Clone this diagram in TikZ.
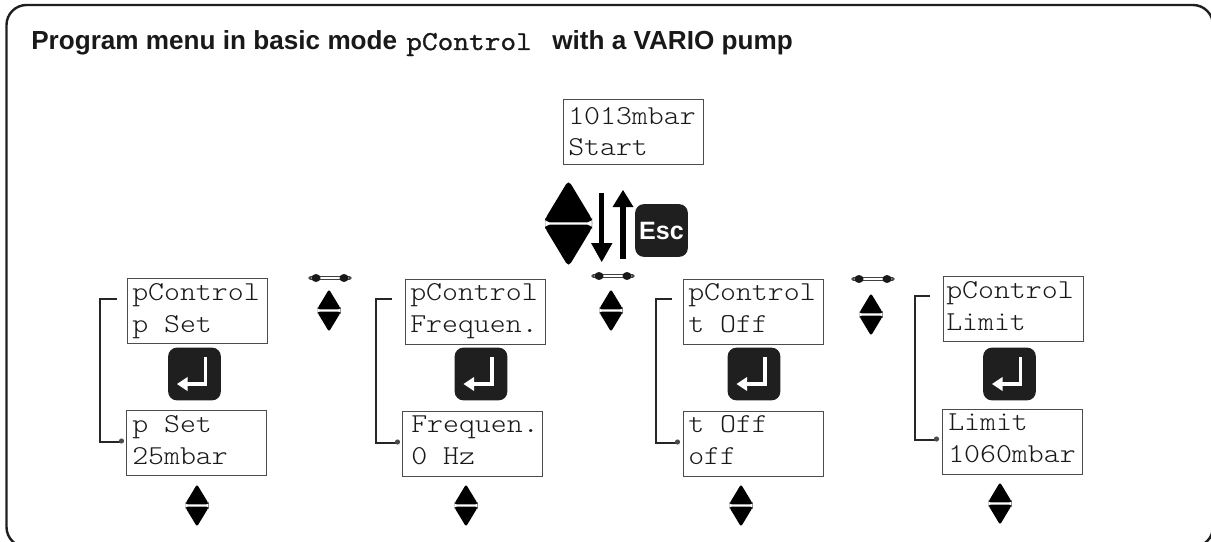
\documentclass[tikz,border=0pt]{standalone}
\usepackage{fontspec}
\setmainfont{Liberation Sans}
\setmonofont[FakeStretch=1.11]{Latin Modern Mono Light}
\newfontfamily\ttbold[FakeStretch=1.115,FakeBold=1.2]{Latin Modern Mono}
\tikzset{x=0.75pt,y=-0.75pt,
 disp/.style={draw=black!70,line width=0.95pt,rectangle,inner sep=0pt,anchor=north west,minimum width=105pt,minimum height=48.75pt},
 lcd/.style={font=\fontsize{20.5}{24}\selectfont\ttfamily,text=black!90,anchor=base west,inner sep=0pt},
 keybox/.style={fill=black!88,rounded corners=6.5pt,minimum size=39.5pt,inner sep=0pt},
 brk/.style={draw=black!85,line width=2pt},
}
\newcommand{\updown}[4]{% cx, cy(gap), half width, height
 \fill[black,rounded corners=#3*0.15pt] (#1-#3,#2-1.2) -- (#1-#3,#2-#4*0.12) -- (#1,#2-#4-1.2-#3*0.22) -- (#1+#3,#2-#4*0.12) -- (#1+#3,#2-1.2) -- cycle;
 \fill[black,rounded corners=#3*0.15pt] (#1-#3,#2+1.2) -- (#1-#3,#2+#4*0.12) -- (#1,#2+#4+1.2+#3*0.22) -- (#1+#3,#2+#4*0.12) -- (#1+#3,#2+1.2) -- cycle;
}
\newcommand{\enterkey}[3]{% name, cx, cy
 \node[keybox] (#1) at (#2,#3) {};
 \draw[white,line width=2.6pt] (#2+11,#3-17) -- (#2+11,#3+10) -- (#2-9,#3+10);
 \fill[white] (#2-17.5,#3+10) -- (#2-7,#3+3) -- (#2-7,#3+17) -- cycle;
}
\newcommand{\dbar}[2]{%
 \draw[black!75,line width=1.3pt] (#1-20,#2-1.6) -- (#1+20,#2-1.6);
 \draw[black!75,line width=1.3pt] (#1-20,#2+1.6) -- (#1+20,#2+1.6);
 \fill[black!90] (#1-14,#2) ellipse [x radius=4.5,y radius=4] (#1+14,#2) ellipse [x radius=4.5,y radius=4];
 \fill[black!70] (#1-20,#2) circle (1.8) (#1+20,#2) circle (1.8);
}
\newcommand{\bracketline}[5]{% name, x, ytop, xtopend, ybot
 \coordinate (#1t) at (#4,#3);
 \coordinate (#1b) at (#2+20,#5);
 \draw[brk] (#1t) -| (#2,#5) -- (#1b);
 \fill[black!70] (#2+21.5,#5-1) circle (2.6);
}
\newcommand{\lcdbox}[7]{% name, boxx, boxy, textx, base1, line1, line2
 \node[disp] (#1) at (#2,#3) {};
 \node[lcd] (#1x) at (#4,#5) {#6};
 \node[lcd] (#1y) at (#4,#5+32) {#7};
}
\begin{document}
\begin{tikzpicture}
\useasboundingbox (0,0) rectangle (1211,542);
\begin{scope}
\clip (0,0) rectangle (1211,542);
\draw[black!88,line width=1.8pt,rounded corners=15pt] (6.5,547) rectangle (1213,5);
\end{scope}
\node[anchor=base west,inner sep=0pt,font=\fontsize{19.6}{24}\selectfont\bfseries,text=black!90] (title1) at (31,50) {Program menu in basic mode};
\node[anchor=base west,inner sep=0pt,font=\fontsize{20.5}{24}\ttbold,text=black!90] (title2) at (406,50) {pControl};
\node[anchor=base west,inner sep=0pt,font=\fontsize{19.6}{24}\selectfont\bfseries,text=black!90] (title3) at (552,50) {with a VARIO pump};
\lcdbox{start}{563}{99}{568}{124}{1013mbar}{Start}
\lcdbox{a1}{127}{278}{132}{300}{pControl}{p Set}
\lcdbox{a2}{126}{410}{132}{432}{p Set}{25mbar}
\lcdbox{b1}{405}{279}{410}{300}{pControl}{Frequen.}
\lcdbox{b2}{402}{411}{411}{432}{Frequen.}{0 Hz}
\lcdbox{c1}{683}{279}{688}{300}{pControl}{t Off}
\lcdbox{c2}{683}{411}{688}{432}{t Off}{off}
\lcdbox{d1}{943}{276}{946}{298}{pControl}{Limit}
\lcdbox{d2}{942}{409}{948}{430}{Limit}{1060mbar}
\enterkey{ea}{194.5}{374}
\enterkey{eb}{481}{374}
\enterkey{ec}{754}{374}
\enterkey{ed}{1009.5}{374}
\node[keybox,font=\fontsize{18.8}{20}\selectfont\bfseries,text=white] (esc) at (661.5,230.5) {Esc};
\bracketline{a}{100}{299}{117}{442}
\bracketline{b}{376}{299}{392}{443}
\bracketline{c}{656}{299}{672}{443}
\bracketline{d}{915}{296}{930}{440}
\updown{568.5}{223.5}{23.5}{37}
\coordinate (dn1) at (601.7,193);
\coordinate (dn2) at (601.7,262);
\coordinate (up1) at (623,259);
\coordinate (up2) at (623,190);
\draw[line width=3.8pt] (dn1) -- (601.7,245);
\fill (dn2) -- (591,243) -- (612.5,243) -- cycle;
\draw[line width=3.8pt] (up1) -- (623,206);
\fill (up2) -- (612.5,207) -- (633.5,207) -- cycle;
\updown{197}{505.5}{11.5}{17.5}
\updown{466}{505.5}{11.5}{17.5}
\updown{741}{505.5}{11.5}{17.5}
\updown{1000}{503.5}{11.5}{17.5}
\updown{329}{310.5}{11.5}{17.5}
\updown{611}{310.5}{11.5}{17.5}
\updown{871}{314.5}{11.5}{17.5}
\dbar{330}{278}
\dbar{613}{276}
\dbar{873}{279}
\end{tikzpicture}
\end{document}
